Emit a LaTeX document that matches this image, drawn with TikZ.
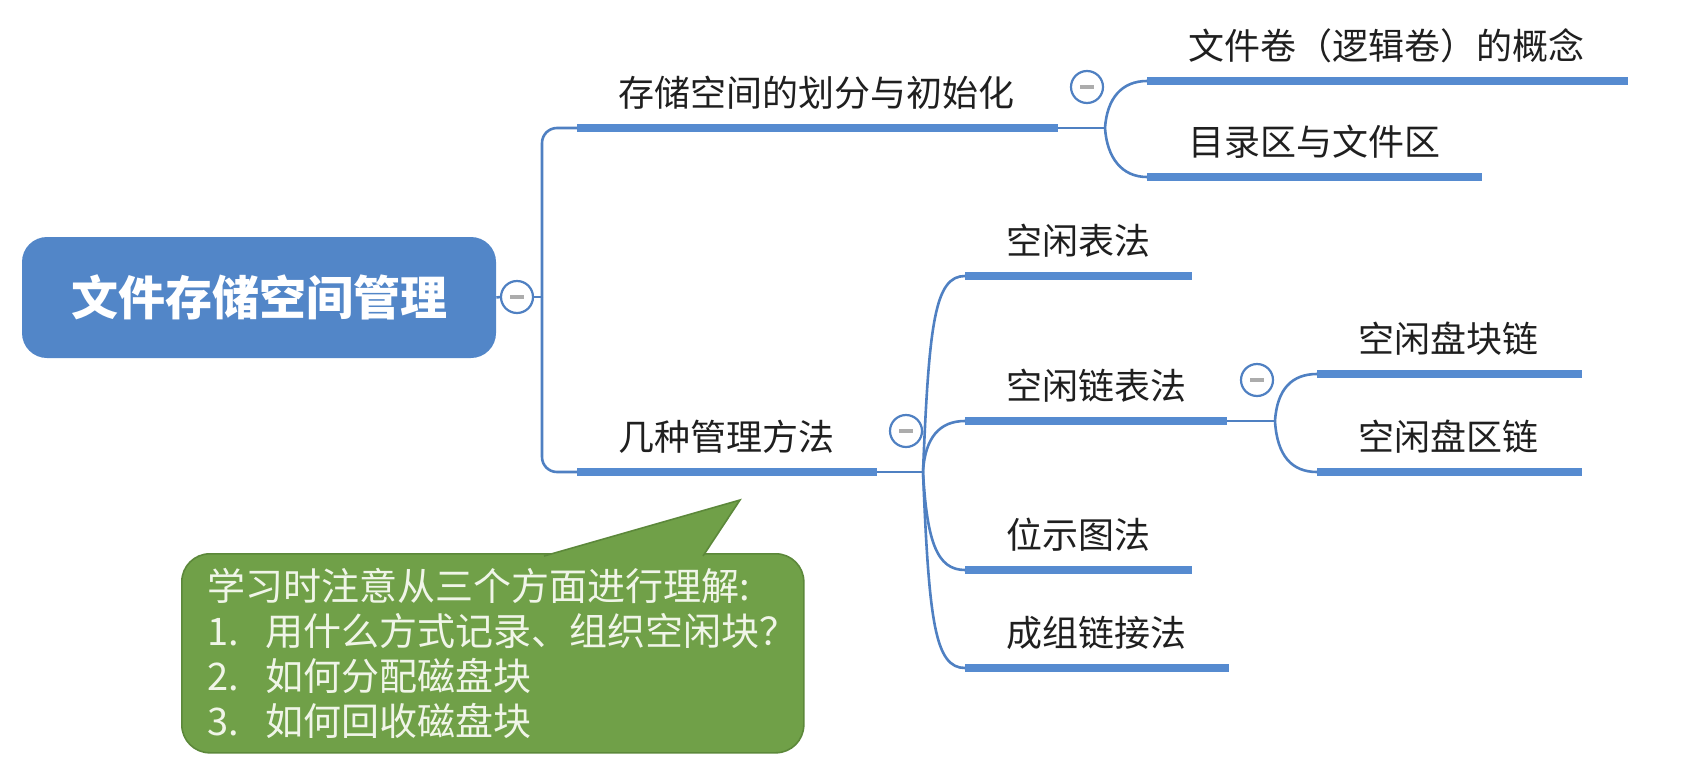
\documentclass[tikz,border=0pt]{standalone}
\usepackage{fontspec}
\usepackage{tikz}
\usetikzlibrary{positioning,calc}
\newfontfamily\cjk{Noto Sans CJK SC}
\definecolor{rootblue}{RGB}{82,134,200}
\definecolor{mapblue}{RGB}{79,128,194}
\definecolor{barblue}{RGB}{86,139,208}
\definecolor{notegreen}{RGB}{112,160,72}
\definecolor{noteedge}{RGB}{92,136,58}
\definecolor{notetext}{RGB}{240,245,232}

\begin{document}
\begin{tikzpicture}[x=0.5pt, y=-0.5pt,
    root/.style={rectangle, rounded corners=12.5pt, fill=rootblue, minimum width=237pt, minimum height=60.5pt, text=white, font=\cjk\bfseries\fontsize{23.5pt}{26pt}\selectfont},
    topic/.style={anchor=base west, inner sep=0pt, text=black!88, font=\cjk\fontsize{18pt}{20pt}\selectfont},
    bar/.style={draw=barblue, line width=4pt},
    link/.style={draw=mapblue, line width=1.3pt},
    fold/.style={circle, draw=mapblue, fill=white, line width=1.1pt, minimum size=16pt, inner sep=0pt,
        path picture={\draw[gray!65, line width=1.6pt] ([xshift=-3.5pt]path picture bounding box.center) -- ([xshift=3.5pt]path picture bounding box.center);}},
    note/.style={rectangle, anchor=north west, rounded corners=14pt, fill=notegreen, draw=noteedge, line width=0.8pt, minimum width=311pt, minimum height=99.5pt, text width=285pt, align=left, inner xsep=12.5pt, text=notetext, font=\cjk\fontsize{19pt}{22.5pt}\selectfont}
]
\useasboundingbox (0,0) rectangle (1702,766);

% root and its fold
\node[root] (root) at (259,297.5) {文件存储空间管理};
\node[fold] (rootFold) at (517,297) {};
\coordinate (trunk) at (542,297);

% bars (west and east ends)
\coordinate (aW) at (577,128);   \coordinate (aE) at (1058,128);
\coordinate (a1W) at (1147,81);  \coordinate (a1E) at (1628,81);
\coordinate (a2W) at (1147,177); \coordinate (a2E) at (1482,177);
\coordinate (bW) at (577,472);   \coordinate (bE) at (877,472);
\coordinate (b1W) at (965,276);  \coordinate (b1E) at (1192,276);
\coordinate (b2W) at (965,421);  \coordinate (b2E) at (1227,421);
\coordinate (b21W) at (1317,374); \coordinate (b21E) at (1582,374);
\coordinate (b22W) at (1317,472); \coordinate (b22E) at (1582,472);
\coordinate (b3W) at (965,570);  \coordinate (b3E) at (1192,570);
\coordinate (b4W) at (965,668);  \coordinate (b4E) at (1229,668);

\foreach \b in {a,a1,a2,b,b1,b2,b21,b22,b3,b4}
    \draw[bar] (\b W) -- (\b E);

\foreach \b/\t in {a/存储空间的划分与初始化, a1/文件卷（逻辑卷）的概念, a2/目录区与文件区,
    b/几种管理方法, b1/空闲表法, b2/空闲链表法, b21/空闲盘块链, b22/空闲盘区链,
    b3/位示图法, b4/成组链接法}
    \node[topic] (\b T) at ([shift={(41,-22)}]\b W) {\t};

% folds and forks
\node[fold] (aFold) at (1087,87) {};
\node[fold] (bFold) at (906,431) {};
\node[fold] (b2Fold) at (1257,380) {};
\coordinate (aF) at (1105,128);
\coordinate (bF) at (923,472);
\coordinate (b2F) at (1275,421);

% connectors
\draw[link] (root.east) -- (rootFold.west);
\draw[link] (rootFold.east) -- (trunk);
\draw[link, rounded corners=7.5pt] (trunk) |- (aW);
\draw[link, rounded corners=7.5pt] (trunk) |- (bW);

\draw[link] (aE) -- (aF);
\draw[link] (aF) .. controls +(2,-30) and +(-25,0) .. (a1W);
\draw[link] (aF) .. controls +(2,30) and +(-25,0) .. (a2W);

\draw[link] (bE) -- (bF);
\draw[link] (bF) .. controls +(6,-150) and +(-30,0) .. (b1W);
\draw[link] (bF) .. controls +(2,-35) and +(-25,0) .. (b2W);
\draw[link] (bF) .. controls +(4,70) and +(-28,0) .. (b3W);
\draw[link] (bF) .. controls +(6,150) and +(-30,0) .. (b4W);

\draw[link] (b2E) -- (b2F);
\draw[link] (b2F) .. controls +(2,-32) and +(-25,0) .. (b21W);
\draw[link] (b2F) .. controls +(2,35) and +(-25,0) .. (b22W);

% callout
\node[note] (note) at (181,553) {学习时注意从三个方面进行理解:\\
    \makebox[29pt][l]{1.}用什么方式记录、组织空闲块？\\
    \makebox[29pt][l]{2.}如何分配磁盘块\\
    \makebox[29pt][l]{3.}如何回收磁盘块};
\coordinate (tipL) at (544,556);
\coordinate (tipR) at (703,556);
\coordinate (tip) at (740,500);
\fill[notegreen] (tipL) -- (tip) -- (tipR) -- cycle;
\draw[noteedge, line width=0.8pt] (tipL) -- (tip) -- (tipR);

\end{tikzpicture}
\end{document}
